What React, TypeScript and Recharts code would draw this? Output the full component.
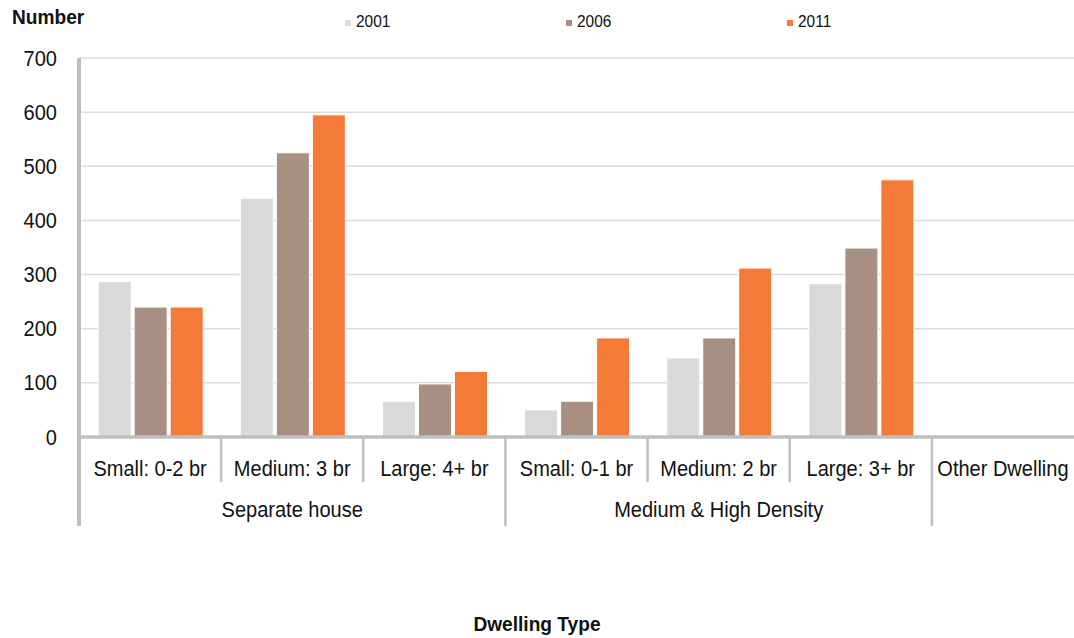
import React from 'react';
import { BarChart, Bar, XAxis, YAxis, CartesianGrid } from 'recharts';

// dwelling types and their parent groups
const categories = ['Small: 0-2 br', 'Medium: 3 br', 'Large: 4+ br', 'Small: 0-1 br', 'Medium: 2 br', 'Large: 3+ br', 'Other Dwelling'];
const groups = ['Separate house', 'Separate house', 'Separate house', 'Medium & High Density', 'Medium & High Density', 'Medium & High Density', ''];

const values2001 = [287, 441, 66, 50, 146, 283, 0];
const values2006 = [240, 525, 98, 66, 183, 349, 0];
const values2011 = [240, 595, 121, 183, 312, 475, 0];

const yTicks = [0, 100, 200, 300, 400, 500, 600, 700];

const series = [
  { key: 'y2001', name: '2001', color: '#d9d9d9' },
  { key: 'y2006', name: '2006', color: '#a88f84' },
  { key: 'y2011', name: '2011', color: '#f47a37' },
];

const data = categories.map((name, i) => ({
  name,
  group: groups[i],
  y2001: values2001[i],
  y2006: values2006[i],
  y2011: values2011[i],
}));

const W = 1074;
const H = 638;
const LEFT = 79;
const FONT = '"Liberation Sans", Arial, sans-serif';
const SQUISH = 0.91;
const AXIS = '#bfbfbf';

const bandWidth = (W - LEFT) / categories.length;

const XTick = (props: any) => {
  const { x, y, index, payload } = props;
  const left = x - bandWidth / 2;
  const groupStart = index === 0 || groups[index] !== groups[index - 1];
  let groupLabel = null;
  if (groupStart && groups[index]) {
    let count = 0;
    while (groups[index + count] === groups[index]) count++;
    const cx = left + (count * bandWidth) / 2;
    groupLabel = (
      <text transform={`translate(${cx} ${y + 80}) scale(${SQUISH} 1)`} textAnchor="middle" fontSize={22} fontFamily={FONT} fill="#111">
        {groups[index]}
      </text>
    );
  }
  return (
    <g>
      <line x1={left} x2={left} y1={y} y2={y + (groupStart ? 89 : 45)} stroke={AXIS} strokeWidth={index === 0 ? 4 : 2.5} />
      <text transform={`translate(${x} ${y + 39}) scale(${SQUISH} 1)`} textAnchor="middle" fontSize={22} fontFamily={FONT} fill="#111">
        {payload.value}
      </text>
      {groupLabel}
    </g>
  );
};

const YTick = (props: any) => {
  const { x, y, payload } = props;
  return (
    <text transform={`translate(${x} ${y + 7.5}) scale(${SQUISH} 1)`} textAnchor="end" fontSize={22} fontFamily={FONT} fill="#111">
      {payload.value}
    </text>
  );
};

const squish = (origin: string): React.CSSProperties => ({
  position: 'absolute',
  transform: `scaleX(${SQUISH})`,
  transformOrigin: origin,
  whiteSpace: 'nowrap',
  fontFamily: FONT,
  color: '#111',
});

export default function App() {
  return (
    <div style={{ position: 'absolute', left: 0, top: 0, width: W, height: H, background: '#fff' }}>
      <BarChart
        width={W}
        height={H}
        data={data}
        margin={{ top: 58, right: 0, left: 0, bottom: 111 }}
        barCategoryGap="13.5%"
        barGap={3}
      >
        <CartesianGrid vertical={false} stroke="#dcdcdc" strokeWidth={1.5} />
        <XAxis
          dataKey="name"
          interval={0}
          height={90}
          tickLine={false}
          tickSize={0}
          tickMargin={0}
          axisLine={{ stroke: AXIS, strokeWidth: 3.5 }}
          tick={<XTick />}
        />
        <YAxis
          width={LEFT}
          domain={[0, 700]}
          ticks={yTicks}
          interval={0}
          tickLine={false}
          tickSize={0}
          tickMargin={22}
          axisLine={{ stroke: AXIS, strokeWidth: 4 }}
          tick={<YTick />}
        />
        {series.map(s => (
          <Bar key={s.key} dataKey={s.key} name={s.name} fill={s.color} stroke="#fff" strokeWidth={1} isAnimationActive={false} />
        ))}
      </BarChart>

      <div style={{ ...squish('left top'), left: 12, top: 5, fontSize: 21, fontWeight: 'bold' }}>Number</div>

      {series.map((s, i) => (
        <div key={s.key} style={{ position: 'absolute', left: 345 + i * 221, top: 12, height: 20 }}>
          <div style={{ position: 'absolute', left: 0, top: 8, width: 6, height: 6, background: s.color }} />
          <div style={{ ...squish('left top'), left: 11, top: 0, fontSize: 17 }}>{s.name}</div>
        </div>
      ))}

      <div style={{ ...squish('center top'), left: 0, width: W, top: 612, fontSize: 21, fontWeight: 'bold', textAlign: 'center', paddingLeft: 0 }}>
        <span style={{ position: 'relative', left: 0 }}>Dwelling Type</span>
      </div>
    </div>
  );
}
